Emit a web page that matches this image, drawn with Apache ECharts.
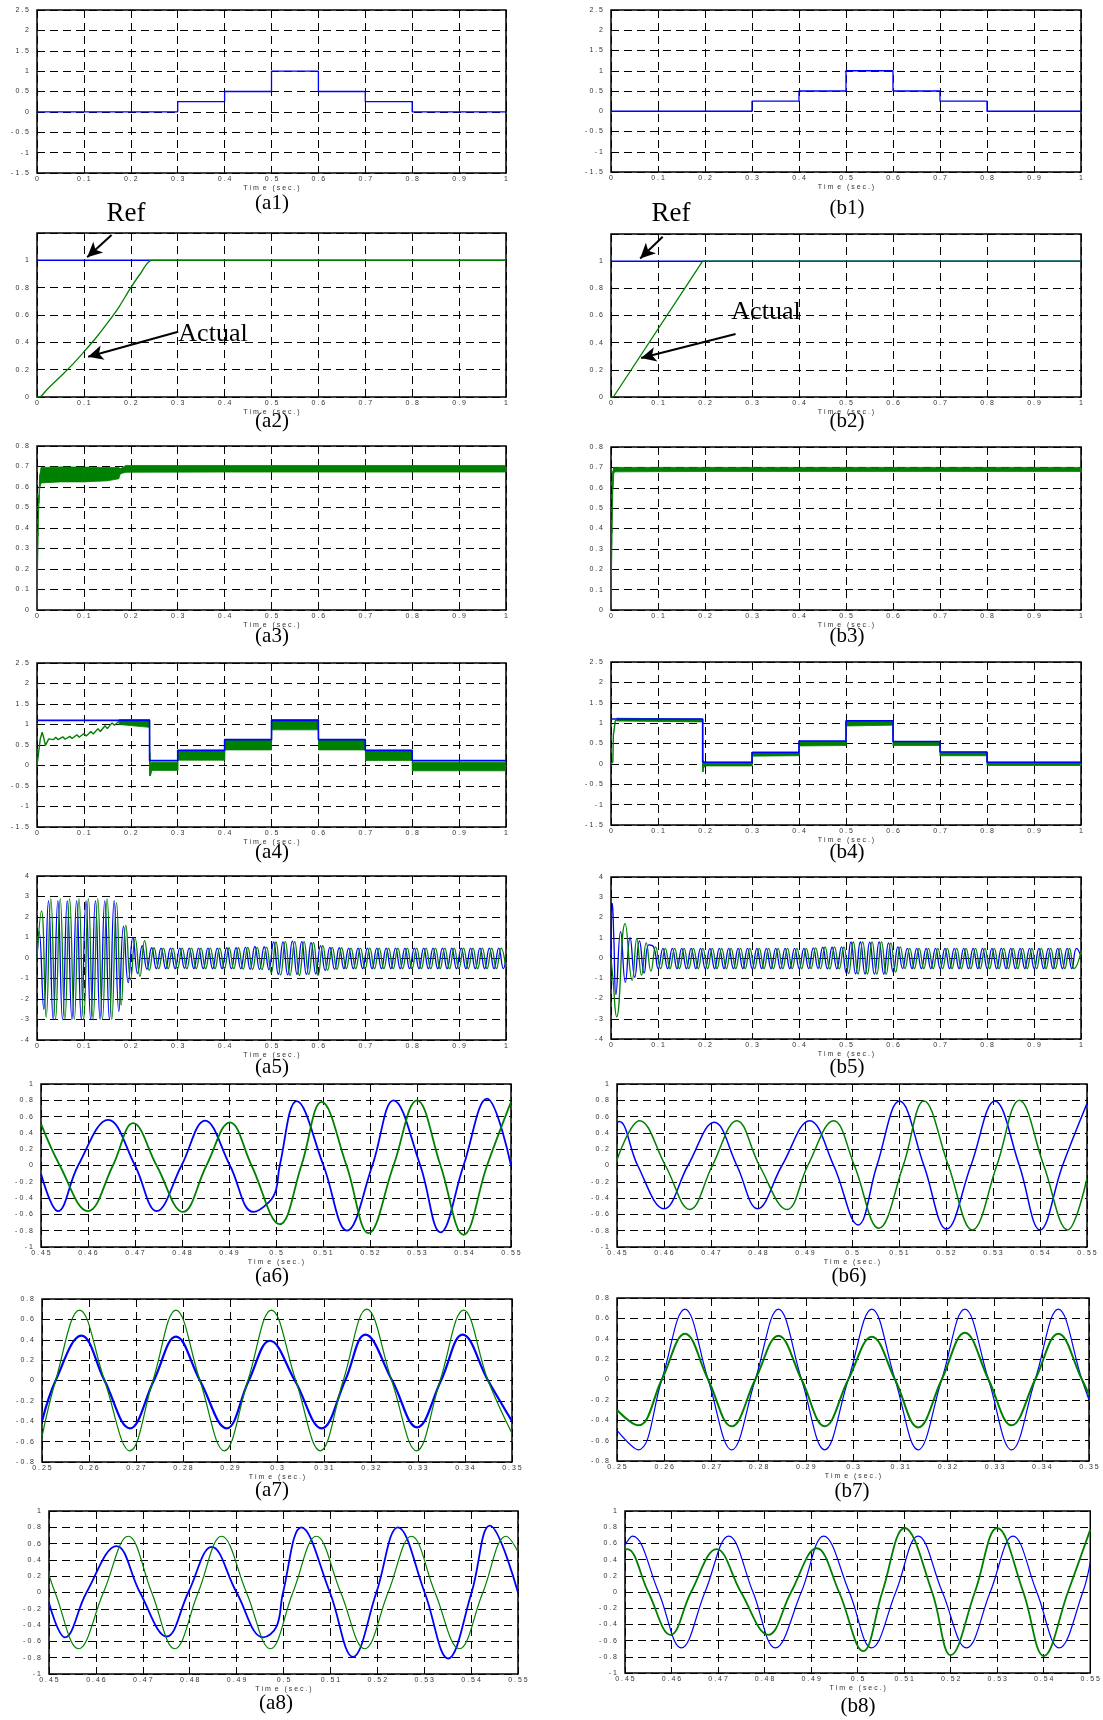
<!DOCTYPE html>
<html><head><meta charset="utf-8">
<script src="https://cdn.jsdelivr.net/npm/echarts@6/dist/echarts.min.js"></script>
<style>html,body{margin:0;padding:0;background:#fff}#c{width:1103px;height:1720px}</style>
</head><body><div id="c"></div><script>
// ---------------- DATA ----------------
// (a1)/(b1) reference steps
const stepT = [0, 0.3, 0.4, 0.5, 0.6, 0.7, 0.8, 1.0];
const stepV = [0, 0.25, 0.5, 1.0, 0.5, 0.25, 0, 0];
// (a2)
const a2RefT = [0, 1.0];
const a2RefV = [1, 1];
const a2ActT = [0, 0.005, 0.02, 0.05, 0.075, 0.1, 0.125, 0.15, 0.175, 0.2, 0.22, 0.245, 0.4, 0.6, 0.8, 1.0];
const a2ActV = [0, 0, 0.05, 0.15, 0.235, 0.33, 0.43, 0.54, 0.66, 0.8, 0.9, 1.0, 1.0, 1.0, 1.0, 1.0];
// (b2)
const b2RefT = [0, 1.0];
const b2RefV = [1, 1];
const b2ActT = [0, 0.005, 0.195, 1.0];
const b2ActV = [0, 0, 1.0, 1.0];
// (a3) envelope of the noisy trace
const a3T  = [0, 0.002, 0.004, 0.006, 0.009, 0.05, 0.1, 0.15, 0.174, 0.178, 0.19, 0.4, 0.6, 0.8, 1.0];
const a3Up = [0, 0.38, 0.56, 0.66, 0.695, 0.698, 0.697, 0.695, 0.695, 0.69, 0.705, 0.705, 0.705, 0.705, 0.705];
const a3Lo = [0, 0.36, 0.52, 0.60, 0.62, 0.625, 0.625, 0.63, 0.64, 0.665, 0.672, 0.673, 0.673, 0.673, 0.673];
// (b3)
const b3T  = [0, 0.002, 0.004, 0.006, 0.01, 0.2, 0.5, 0.8, 1.0];
const b3Up = [0, 0.4, 0.68, 0.70, 0.70, 0.70, 0.70, 0.70, 0.70];
const b3Lo = [0, 0.38, 0.6, 0.675, 0.678, 0.68, 0.68, 0.68, 0.68];
// (a4)
const a4RefT = [0, 0.24, 0.3, 0.4, 0.5, 0.6, 0.7, 0.8, 1.0];
const a4RefV = [1.1, 0.12, 0.37, 0.63, 1.1, 0.63, 0.37, 0.12, 0.12];
const a4StartT = [0, 0.001, 0.007, 0.011, 0.014, 0.018, 0.025, 0.035, 0.04, 0.045, 0.055, 0.06, 0.07, 0.075, 0.085, 0.09, 0.1, 0.105, 0.115, 0.12, 0.13, 0.135, 0.145, 0.15, 0.16, 0.165, 0.175];
const a4StartV = [0, 0, 0.65, 0.81, 0.69, 0.49, 0.65, 0.63, 0.69, 0.63, 0.7, 0.64, 0.71, 0.66, 0.75, 0.69, 0.78, 0.72, 0.83, 0.77, 0.9, 0.83, 0.97, 0.9, 1.04, 0.98, 1.08];
const a4T  = [0.175, 0.24, 0.2405, 0.242, 0.245, 0.3, 0.3005, 0.4, 0.4005, 0.5, 0.5005, 0.6, 0.6005, 0.7, 0.7005, 0.8, 0.8005, 1.0];
const a4Up = [1.12, 1.12, 0.3, 0.0, 0.08, 0.08, 0.37, 0.37, 0.63, 0.63, 1.12, 1.12, 0.62, 0.62, 0.37, 0.37, 0.08, 0.08];
const a4Lo = [1.0, 0.93, -0.25, -0.25, -0.12, -0.12, 0.13, 0.13, 0.38, 0.38, 0.87, 0.87, 0.38, 0.38, 0.12, 0.12, -0.13, -0.13];
// (b4)
const b4RefT = [0, 0.195, 0.3, 0.4, 0.5, 0.6, 0.7, 0.8, 1.0];
const b4RefV = [1.1, 0.04, 0.28, 0.56, 1.06, 0.55, 0.29, 0.04, 0.04];
const b4StartT = [0, 0.004, 0.005, 0.008, 0.009, 0.012];
const b4StartV = [0, 0.05, 0.7, 0.7, 1.05, 1.1];
const b4T  = [0.012, 0.195, 0.1955, 0.197, 0.2, 0.3, 0.3005, 0.4, 0.4005, 0.5, 0.5005, 0.6, 0.6005, 0.7, 0.7005, 0.8, 0.8005, 1.0];
const b4Up = [1.12, 1.1, 0.1, 0.05, 0.04, 0.04, 0.29, 0.29, 0.55, 0.55, 1.05, 1.05, 0.54, 0.54, 0.29, 0.29, 0.04, 0.04];
const b4Lo = [1.05, 1.03, -0.2, -0.1, -0.05, -0.05, 0.19, 0.2, 0.44, 0.45, 0.93, 0.95, 0.45, 0.45, 0.2, 0.2, -0.04, -0.04];
// (a5) extremes, one every 10 ms
const a5BlueT0 = 0.0045, a5GreenT0 = 0.0095, a5Dt = 0.01;
const a5BlueV = [1.3,-2.5,2.8,-3.0,2.8,-3.0,2.8,-3.0,2.8,-3.0,2.8,-3.0,2.8,-3.0,2.8,-3.0,2.8,-2.6,
  1.55,-1.2,1.0,-0.75,0.6,-0.55,
  0.5,-0.52,0.48,-0.52,0.48,-0.52,0.48,-0.5,0.48,-0.52,0.48,-0.52,0.48,-0.52,0.48,-0.52,0.5,-0.52,0.5,-0.52,0.52,-0.55,0.56,-0.56,0.55,-0.57,
  0.78,-0.8,0.79,-0.82,0.82,-0.8,0.8,-0.8,0.75,-0.78,
  0.6,-0.62,0.52,-0.55,0.5,-0.52,0.48,-0.52,0.48,-0.52,0.48,-0.52,0.48,-0.52,0.48,-0.52,0.48,-0.52,0.48,-0.52,
  0.48,-0.52,0.48,-0.52,0.48,-0.52,0.48,-0.52,0.48,-0.52,0.48,-0.52,0.48,-0.52,0.48,-0.52,0.48,-0.52,0.48,-0.52];
const a5GreenV = [2.3,-2.9,2.9,-3.0,2.9,-3.0,2.9,-3.0,2.9,-3.0,2.9,-3.0,2.9,-3.0,2.9,-3.0,2.7,
  -2.3,1.6,-1.05,0.95,-0.9,0.85,-0.6,
  0.5,-0.52,0.48,-0.52,0.48,-0.52,0.48,-0.52,0.48,-0.52,0.48,-0.52,0.48,-0.52,0.48,-0.52,0.5,-0.52,0.5,-0.54,0.52,-0.56,0.52,-0.57,0.53,-0.72,
  0.78,-0.83,0.8,-0.85,0.8,-0.85,0.8,-0.8,0.75,-0.85,
  0.6,-0.6,0.52,-0.55,0.5,-0.52,0.48,-0.52,0.48,-0.52,0.48,-0.52,0.48,-0.52,0.48,-0.52,0.48,-0.52,0.48,-0.52,
  0.48,-0.52,0.48,-0.52,0.48,-0.52,0.48,-0.52,0.48,-0.52,0.48,-0.52,0.48,-0.52,0.48,-0.52,0.48,-0.52,0.48,-0.52];
// (b5) start transient + extremes every 10 ms
const b5BlueStartT = [0, 0.003, 0.006, 0.0105, 0.0205, 0.0305, 0.0405, 0.0505, 0.0605, 0.0705, 0.0805, 0.0905];
const b5BlueStartV = [0, 2.7, 1.0, -1.8, 1.3, -1.2, 1.0, -0.95, 0.85, -0.75, 0.65, 0.55];
const b5BlueT0 = 0.1005;
const b5BlueV = [-0.52,0.48,-0.52,0.48,-0.52,0.48,-0.52,0.48,-0.52,0.48,-0.52,0.48,-0.52,0.48,-0.52,0.48,-0.52,0.48,-0.52,0.48,
  -0.52,0.48,-0.52,0.48,-0.52,0.48,-0.52,0.48,-0.52,0.48,-0.52,0.48,-0.52,0.5,-0.52,0.54,-0.53,0.53,-0.53,0.55,
  -0.73,0.79,-0.78,0.79,-0.79,0.78,-0.8,0.8,-0.8,0.75,-0.7,0.55,
  -0.52,0.48,-0.52,0.48,-0.52,0.48,-0.52,0.48,-0.52,0.48,-0.52,0.48,-0.52,0.48,-0.52,0.48,-0.52,0.48,-0.52,0.48,
  -0.52,0.48,-0.52,0.48,-0.52,0.48,-0.52,0.48,-0.52,0.48,-0.52,0.48,-0.52,0.48,-0.52,0.48,-0.52,0.48];
const b5GreenStartT = [0, 0.004, 0.012, 0.03, 0.045, 0.055, 0.065, 0.075, 0.085, 0.095];
const b5GreenStartV = [0, -1.0, -2.9, 1.7, -1.1, 0.95, -0.85, 0.75, -0.65, 0.55];
const b5GreenT0 = 0.1055;
const b5GreenV = [-0.52,0.48,-0.52,0.48,-0.52,0.48,-0.52,0.48,-0.52,0.48,-0.52,0.48,-0.52,0.48,-0.52,0.48,-0.52,0.48,-0.52,0.48,
  -0.52,0.48,-0.52,0.48,-0.52,0.48,-0.52,0.48,-0.52,0.48,-0.52,0.48,-0.52,0.5,-0.52,0.55,-0.54,0.55,-0.54,0.55,
  -0.77,0.79,-0.79,0.8,-0.79,0.8,-0.8,0.8,-0.8,0.75,-0.7,0.55,
  -0.52,0.48,-0.52,0.48,-0.52,0.48,-0.52,0.48,-0.52,0.48,-0.52,0.48,-0.52,0.48,-0.52,0.48,-0.52,0.48,-0.52,0.48,
  -0.52,0.48,-0.52,0.48,-0.52,0.48,-0.52,0.48,-0.52,0.48,-0.52,0.48,-0.52,0.48,-0.52,0.48,-0.52];
const b5Dt = 0.01;
// (a6)
const a6BlueT = [0.45, 0.4536, 0.4579, 0.4643, 0.47, 0.4746, 0.4799, 0.4849, 0.4902, 0.4952, 0.4985, 0.5, 0.5008, 0.5044, 0.5101, 0.5151, 0.5205, 0.525, 0.5307, 0.535, 0.5399, 0.5449, 0.55];
const a6BlueV = [-0.1, -0.56, 0, 0.56, 0, -0.56, 0, 0.55, 0, -0.57, -0.45, -0.3, 0, 0.79, 0, -0.8, 0, 0.8, 0, -0.82, 0, 0.82, 0];
const a6GreenT = [0.45, 0.454, 0.46, 0.4653, 0.4696, 0.4746, 0.4802, 0.4852, 0.4902, 0.4948, 0.5008, 0.5054, 0.5097, 0.515, 0.5197, 0.525, 0.53, 0.535, 0.5399, 0.5449, 0.55];
const a6GreenV = [0.51, 0, -0.56, 0, 0.52, 0, -0.57, 0, 0.53, 0, -0.72, 0, 0.78, 0, -0.83, 0, 0.8, 0, -0.85, 0, 0.78];
// (b6)
const b6BlueT = [0.45, 0.4505, 0.4544, 0.46, 0.4651, 0.4707, 0.4755, 0.4799, 0.4851, 0.491, 0.4961, 0.5013, 0.5053, 0.5101, 0.5153, 0.5201, 0.5253, 0.5304, 0.5356, 0.54, 0.5448, 0.55];
const b6BlueV = [0.53, 0.54, 0, -0.53, 0, 0.53, 0, -0.53, 0, 0.55, 0, -0.73, 0, 0.79, 0, -0.78, 0, 0.79, 0, -0.79, 0, 0.76];
const b6GreenT = [0.45, 0.4548, 0.4603, 0.4655, 0.4703, 0.4755, 0.4803, 0.4862, 0.4906, 0.4961, 0.5005, 0.5057, 0.5109, 0.5153, 0.5205, 0.5256, 0.5308, 0.5356, 0.5408, 0.5459, 0.55];
const b6GreenV = [0.07, 0.55, 0, -0.54, 0, 0.55, 0, -0.54, 0, 0.55, 0, -0.77, 0, 0.79, 0, -0.79, 0, 0.8, 0, -0.79, -0.16];
// (a7)
const a7GreenT = [0.25, 0.2529, 0.258, 0.2633, 0.2687, 0.2736, 0.2785, 0.2836, 0.2888, 0.2938, 0.2988, 0.304, 0.3092, 0.3141, 0.3191, 0.3244, 0.3297, 0.3347, 0.3397, 0.3449, 0.35];
const a7GreenV = [-0.55, 0, 0.69, 0, -0.69, 0, 0.69, 0, -0.69, 0, 0.69, 0, -0.69, 0, 0.7, 0, -0.69, 0, 0.69, 0, -0.52];
const a7BlueT = [0.25, 0.2529, 0.2584, 0.2633, 0.2687, 0.2738, 0.2785, 0.2836, 0.2893, 0.294, 0.2985, 0.3038, 0.3095, 0.3145, 0.3188, 0.3245, 0.3298, 0.3349, 0.3395, 0.3449, 0.35];
const a7BlueV = [-0.4, 0, 0.44, 0, -0.47, 0, 0.43, 0, -0.47, 0, 0.39, 0, -0.47, 0, 0.45, 0, -0.46, 0, 0.45, 0, -0.4];
// (b7)
const b7BlueT = [0.25, 0.2545, 0.2595, 0.2644, 0.2693, 0.2743, 0.2793, 0.2842, 0.2891, 0.294, 0.299, 0.304, 0.3089, 0.3138, 0.3188, 0.3237, 0.3287, 0.3336, 0.3386, 0.3435, 0.3485, 0.35];
const b7BlueV = [-0.5, -0.69, 0, 0.69, 0, -0.69, 0, 0.69, 0, -0.69, 0, 0.69, 0, -0.69, 0, 0.69, 0, -0.69, 0, 0.69, 0, -0.2];
const b7GreenT = [0.25, 0.2545, 0.2595, 0.2644, 0.2693, 0.2743, 0.2793, 0.2842, 0.2891, 0.294, 0.299, 0.304, 0.3089, 0.3138, 0.3188, 0.3237, 0.3287, 0.3336, 0.3386, 0.3435, 0.3485, 0.35];
const b7GreenV = [-0.3, -0.45, 0, 0.45, 0, -0.46, 0, 0.43, 0, -0.46, 0, 0.42, 0, -0.47, 0, 0.46, 0, -0.45, 0, 0.45, 0, -0.15];
// (a8)
const a8GreenT = [0.45, 0.4513, 0.4563, 0.4616, 0.4669, 0.4719, 0.4768, 0.4818, 0.4868, 0.4921, 0.4972, 0.502, 0.507, 0.5122, 0.5173, 0.5223, 0.5273, 0.5323, 0.5375, 0.5425, 0.5475, 0.55];
const a8GreenV = [0.22, 0, -0.69, 0, 0.69, 0, -0.69, 0, 0.69, 0, -0.69, 0, 0.69, 0, -0.69, 0, 0.69, 0, -0.69, 0, 0.69, 0.5];
const a8BlueT = [0.45, 0.4534, 0.458, 0.4644, 0.4694, 0.4751, 0.4797, 0.4847, 0.49, 0.4957, 0.4985, 0.4999, 0.5038, 0.5099, 0.5148, 0.5198, 0.5244, 0.5301, 0.5351, 0.5401, 0.544, 0.55];
const a8BlueV = [-0.13, -0.55, 0, 0.57, 0, -0.54, 0, 0.56, 0, -0.55, -0.42, 0, 0.8, 0, -0.79, 0, 0.8, 0, -0.81, 0, 0.82, 0];
// (b8)
const b8BlueT = [0.45, 0.4516, 0.4572, 0.4621, 0.4672, 0.4723, 0.4775, 0.4823, 0.4879, 0.4927, 0.4982, 0.503, 0.5082, 0.513, 0.5182, 0.5234, 0.5285, 0.5334, 0.5385, 0.5433, 0.5484, 0.55];
const b8BlueV = [0.58, 0.69, 0, -0.69, 0, 0.69, 0, -0.69, 0, 0.69, 0, -0.69, 0, 0.69, 0, -0.69, 0, 0.69, 0, -0.69, 0, 0.37];
const b8GreenT = [0.45, 0.4505, 0.455, 0.4598, 0.4642, 0.4697, 0.4749, 0.4808, 0.4857, 0.4912, 0.496, 0.5012, 0.5053, 0.5101, 0.516, 0.52, 0.5252, 0.53, 0.5356, 0.54, 0.5452, 0.55];
const b8GreenV = [0.52, 0.53, 0, -0.53, 0, 0.53, 0, -0.53, 0, 0.54, 0, -0.73, 0, 0.79, 0, -0.78, 0, 0.79, 0, -0.79, 0, 0.77];
// annotation arrows (data coords) and texts
const a2RefArrow = [[0.159, 1.185], [0.107, 1.022]];
const a2ActArrow = [[0.301, 0.478], [0.109, 0.295]];
const b2RefArrow = [[0.11, 1.18], [0.062, 1.02]];
const b2ActArrow = [[0.265, 0.464], [0.064, 0.287]];
const TIME_LABEL = 'T i m  e   ( s e c . )';

// ---------------- HELPERS ----------------
const BLUE = '#0000ff', GREEN = '#008000';
const zip = (t, v) => t.map((x, i) => [x, v[i]]);
const grid = (t0, dt, v) => v.map((y, i) => [+(t0 + i * dt).toFixed(5), y]);
function spaced(v) { return String(+(+v).toFixed(4)).split('').join(' '); }

function lineS(data, color, width, extra) {
  return Object.assign({ type: 'line', data, symbol: 'none', showSymbol: false, lineStyle: { color, width }, itemStyle: { color }, clip: true }, extra || {});
}
function bandS(t, up, lo, color) {
  const d = [];
  for (let k = 0; k < t.length - 1; k++) d.push([t[k], up[k], lo[k], t[k + 1], up[k + 1], lo[k + 1]]);
  return {
    type: 'custom', clip: true, silent: true, data: d,
    encode: { x: [0, 3], y: [1, 2, 4, 5] },
    renderItem(params, api) {
      const pts = [api.coord([api.value(0), api.value(1)]), api.coord([api.value(3), api.value(4)]),
                   api.coord([api.value(3), api.value(5)]), api.coord([api.value(0), api.value(2)])];
      return { type: 'polygon', shape: { points: pts }, style: { fill: color, stroke: color, lineWidth: 0.8 } };
    }
  };
}
function arrowML(a1, a2) {
  return { silent: true, symbol: ['none', 'arrow'], symbolSize: [11, 15], animation: false,
    lineStyle: { color: '#000', width: 2, type: 'solid' }, label: { show: false },
    data: [[{ coord: a1[0] }, { coord: a1[1] }], [{ coord: a2[0] }, { coord: a2[1] }]] };
}

// ---------------- PANELS (layout + series) ----------------
const X01 = [0, 1, 0.1], XW = [0.45, 0.55, 0.01], XW7 = [0.25, 0.35, 0.01];
const panels = [
  { box: [37, 10, 469, 163], x: X01, y: [-1.5, 2.5, 0.5], cap: '(a1)', cp: [272, 203],
    s: [lineS(zip(stepT, stepV), BLUE, 1.3, { step: 'end' })] },
  { box: [611, 10, 470, 162], x: X01, y: [-1.5, 2.5, 0.5], cap: '(b1)', cp: [847, 208],
    s: [lineS(zip(stepT, stepV), BLUE, 1.3, { step: 'end' })] },
  { box: [37, 233, 469, 164], x: X01, y: [0, 1.2, 0.2], yHideAbove: 1.0, cap: '(a2)', cp: [272, 421],
    s: [lineS(zip(a2RefT, a2RefV), BLUE, 1.5), lineS(zip(a2ActT, a2ActV), GREEN, 1.3, { smooth: 0.3, markLine: arrowML(a2RefArrow, a2ActArrow) })] },
  { box: [611, 234, 470, 163], x: X01, y: [0, 1.2, 0.2], yHideAbove: 1.0, cap: '(b2)', cp: [847, 421],
    s: [lineS(zip(b2RefT, b2RefV), BLUE, 1.5), lineS(zip(b2ActT, b2ActV), GREEN, 1.3, { markLine: arrowML(b2RefArrow, b2ActArrow) })] },
  { box: [37, 446, 469, 164], x: X01, y: [0, 0.8, 0.1], cap: '(a3)', cp: [272, 636],
    s: [bandS(a3T, a3Up, a3Lo, GREEN)] },
  { box: [611, 447, 470, 163], x: X01, y: [0, 0.8, 0.1], cap: '(b3)', cp: [847, 636],
    s: [bandS(b3T, b3Up, b3Lo, GREEN)] },
  { box: [37, 663, 469, 164], x: X01, y: [-1.5, 2.5, 0.5], cap: '(a4)', cp: [272, 852],
    s: [lineS(zip(a4RefT, a4RefV), BLUE, 1.6, { step: 'end' }), lineS(zip(a4StartT, a4StartV), GREEN, 1.4), bandS(a4T, a4Up, a4Lo, GREEN)] },
  { box: [611, 662, 470, 163], x: X01, y: [-1.5, 2.5, 0.5], cap: '(b4)', cp: [847, 852],
    s: [lineS(zip(b4RefT, b4RefV), BLUE, 1.6, { step: 'end' }), lineS(zip(b4StartT, b4StartV), GREEN, 1.4), bandS(b4T, b4Up, b4Lo, GREEN)] },
  { box: [37, 876, 469, 164], x: X01, y: [-4, 4, 1], cap: '(a5)', cp: [272, 1067],
    s: [lineS([[0, 0]].concat(grid(a5BlueT0, a5Dt, a5BlueV), [[1.0, 0.05]]), BLUE, 1.3, { smooth: 0.5 }),
        lineS([[0, 0]].concat(grid(a5GreenT0, a5Dt, a5GreenV)), GREEN, 1.3, { smooth: 0.5 })] },
  { box: [611, 877, 470, 162], x: X01, y: [-4, 4, 1], cap: '(b5)', cp: [847, 1067],
    s: [lineS(zip(b5BlueStartT, b5BlueStartV).concat(grid(b5BlueT0, b5Dt, b5BlueV), [[1.0, 0.1]]), BLUE, 1.3, { smooth: 0.5 }),
        lineS(zip(b5GreenStartT, b5GreenStartV).concat(grid(b5GreenT0, b5Dt, b5GreenV), [[1.0, 0.3]]), GREEN, 1.3, { smooth: 0.5 })] },
  { box: [41, 1084, 470, 163], x: XW, y: [-1, 1, 0.2], cap: '(a6)', cp: [272, 1276],
    s: [lineS(zip(a6BlueT, a6BlueV), BLUE, 1.8, { smooth: 0.4 }), lineS(zip(a6GreenT, a6GreenV), GREEN, 1.8, { smooth: 0.4 })] },
  { box: [617, 1084, 470, 163], x: XW, y: [-1, 1, 0.2], cap: '(b6)', cp: [849, 1276],
    s: [lineS(zip(b6BlueT, b6BlueV), BLUE, 1.5, { smooth: 0.4 }), lineS(zip(b6GreenT, b6GreenV), GREEN, 1.5, { smooth: 0.4 })] },
  { box: [42, 1299, 470, 163], x: XW7, y: [-0.8, 0.8, 0.2], cap: '(a7)', cp: [272, 1490],
    s: [lineS(zip(a7BlueT, a7BlueV), BLUE, 2.2, { smooth: 0.4 }), lineS(zip(a7GreenT, a7GreenV), GREEN, 1.2, { smooth: 0.4 })] },
  { box: [617, 1298, 472, 163], x: XW7, y: [-0.8, 0.8, 0.2], cap: '(b7)', cp: [852, 1491],
    s: [lineS(zip(b7BlueT, b7BlueV), BLUE, 1.2, { smooth: 0.4 }), lineS(zip(b7GreenT, b7GreenV), GREEN, 2.0, { smooth: 0.4 })] },
  { box: [49, 1511, 469, 163], x: XW, y: [-1, 1, 0.2], cap: '(a8)', cp: [276, 1703],
    s: [lineS(zip(a8BlueT, a8BlueV), BLUE, 1.8, { smooth: 0.4 }), lineS(zip(a8GreenT, a8GreenV), GREEN, 1.2, { smooth: 0.4 })] },
  { box: [625, 1511, 469, 162], x: XW, y: [-1, 1, 0.2], cap: '(b8)', cp: [858, 1706],
    s: [lineS(zip(b8BlueT, b8BlueV), BLUE, 1.2, { smooth: 0.4 }), lineS(zip(b8GreenT, b8GreenV), GREEN, 1.8, { smooth: 0.4 })] }
];

// ---------------- OPTION ----------------
const LBL = { fontSize: 7, color: '#333', fontFamily: 'Liberation Sans' };
const option = { animation: false, backgroundColor: '#fff', grid: [], xAxis: [], yAxis: [], series: [], graphic: [] };
panels.forEach((p, i) => {
  option.grid.push({ left: p.box[0], top: p.box[1], width: p.box[2], height: p.box[3], show: true,
    borderColor: '#000', borderWidth: 1.5, backgroundColor: 'rgba(0,0,0,0)' });
  const split = { show: true, lineStyle: { color: '#000', width: 1, type: [8, 5] } };
  option.xAxis.push({ type: 'value', gridIndex: i, min: p.x[0], max: p.x[1], interval: p.x[2],
    axisLine: { show: false }, axisTick: { show: true, inside: true, length: 3, lineStyle: { color: '#000' } },
    splitLine: split,
    axisLabel: Object.assign({ margin: 3, showMinLabel: true, showMaxLabel: true, formatter: spaced }, LBL),
    name: TIME_LABEL, nameLocation: 'middle', nameGap: 12, nameTextStyle: Object.assign({}, LBL) });
  const hide = p.yHideAbove;
  option.yAxis.push({ type: 'value', gridIndex: i, min: p.y[0], max: p.y[1], interval: p.y[2],
    axisLine: { show: false }, axisTick: { show: true, inside: true, length: 3, lineStyle: { color: '#000' } },
    splitLine: split,
    axisLabel: Object.assign({ margin: 8, showMinLabel: true, showMaxLabel: true,
      formatter: v => (hide !== undefined && v > hide + 1e-6) ? '' : spaced(v) }, LBL) });
  p.s.forEach(s => { s.xAxisIndex = i; s.yAxisIndex = i; option.series.push(s); });
  option.graphic.push({ type: 'text', x: p.cp[0], y: p.cp[1], silent: true,
    style: { text: p.cap, font: '21px "Liberation Serif"', textAlign: 'center', textVerticalAlign: 'middle', fill: '#000' } });
});
const ann = [['Ref', 126, 214, 27], ['Actual', 213, 334, 26], ['Ref', 671, 214, 27], ['Actual', 766, 312, 26]];
ann.forEach(a => option.graphic.push({ type: 'text', x: a[1], y: a[2], silent: true,
  style: { text: a[0], font: a[3] + 'px "Liberation Serif"', textAlign: 'center', textVerticalAlign: 'middle', fill: '#000' } }));

const chart = echarts.init(document.getElementById('c'), null, { renderer: 'canvas' });
chart.setOption(option);
</script></body></html>
